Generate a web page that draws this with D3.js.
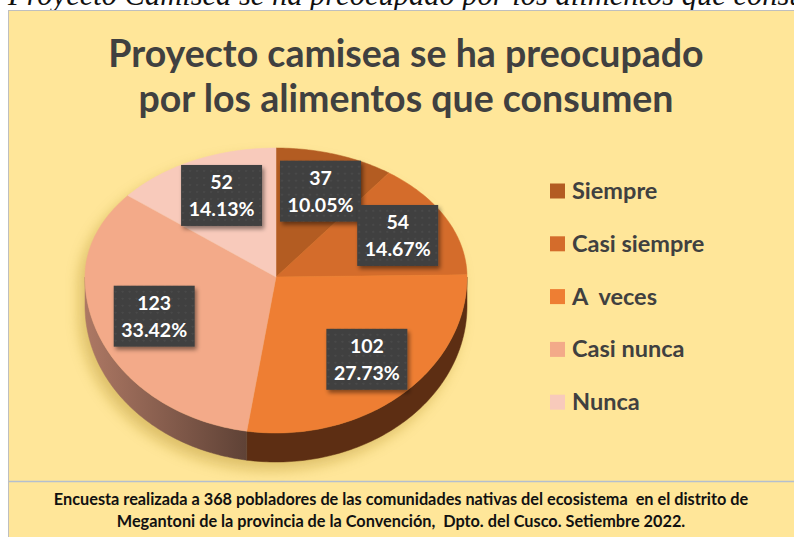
<!DOCTYPE html>
<html>
<head>
<meta charset="utf-8">
<script src="https://cdn.jsdelivr.net/npm/d3@7"></script>
<style>
  body { margin: 0; background: #fff; }
  svg { display: block; }
</style>
</head>
<body>
<svg id="chart"></svg>
<script>
// data
let categories = ['Siempre', 'Casi siempre', 'A  veces', 'Casi nunca', 'Nunca']
let counts = [37, 54, 102, 123, 52]
let percents = ['10.05%', '14.67%', '27.73%', '33.42%', '14.13%']

let titleLines = ['Proyecto camisea se ha preocupado', 'por los alimentos que consumen']
let footerLines = [
    'Encuesta realizada a 368 pobladores de las comunidades nativas del ecosistema  en el distrito de',
    'Megantoni de la provincia de la Convención,  Dpto. del Cusco. Setiembre 2022.'
]
let captionText = 'Proyecto Camisea se ha preocupado por los alimentos que consumen'

// canvas size
let width = 794
let height = 537

// pie geometry (slightly in perspective: the near half is taller)
let cx = 276
let cy = 277
let rx = 191
let ryBack = 129
let ryFront = 156
let depth = 29

let colorScale = d3.scaleOrdinal()
    .domain(categories)
    .range(['#b35c22', '#d46c2b', '#ee7e33', '#f3aa89', '#f8cabb'])

let sideScale = d3.scaleOrdinal()
    .domain(categories)
    .range(['#5a2c10', '#66300f', '#5d2e13', 'url(#sideGrad)', '#7a5a4e'])

let svg = d3.select('#chart')
    .attr('width', width)
    .attr('height', height)
    .style('font-family', 'Lato, "Open Sans", sans-serif')

let defs = svg.append('defs')

// shadow behind the pie
let blur = defs.append('filter').attr('id', 'pieShadow')
    .attr('x', '-30%').attr('y', '-30%').attr('width', '160%').attr('height', '160%')
blur.append('feGaussianBlur').attr('stdDeviation', 7)

let boxShadow = defs.append('filter').attr('id', 'boxShadow')
    .attr('x', '-20%').attr('y', '-20%').attr('width', '150%').attr('height', '150%')
boxShadow.append('feDropShadow')
    .attr('dx', 2).attr('dy', 3).attr('stdDeviation', 2)
    .attr('flood-color', '#000').attr('flood-opacity', 0.45)

let sideGrad = defs.append('linearGradient').attr('id', 'sideGrad')
    .attr('gradientUnits', 'userSpaceOnUse')
    .attr('x1', cx - rx).attr('x2', cx - 30).attr('y1', 0).attr('y2', 0)
sideGrad.append('stop').attr('offset', 0).attr('stop-color', '#ad7864')
sideGrad.append('stop').attr('offset', 1).attr('stop-color', '#5f4236')

// dotted texture of the label boxes
let pat = defs.append('pattern').attr('id', 'dots')
    .attr('patternUnits', 'userSpaceOnUse').attr('width', 7).attr('height', 7)
pat.append('rect').attr('width', 7).attr('height', 7).attr('fill', '#3f3f3f')
pat.append('circle').attr('cx', 3.5).attr('cy', 3.5).attr('r', 1.1).attr('fill', '#4d4d4d')

// caption above the chart, cut off by the page top like in the source
svg.append('text')
    .attr('x', 8)
    .attr('y', 5)
    .attr('font-family', '"Liberation Serif", "Times New Roman", serif')
    .attr('font-style', 'italic')
    .attr('font-size', 30.5)
    .attr('fill', '#111')
    .text(captionText)

// chart area
svg.append('rect')
    .attr('x', 8.5).attr('y', 10.5)
    .attr('width', width).attr('height', height)
    .attr('fill', '#ffe699')
    .attr('stroke', '#bfbfbf')

svg.append('line')
    .attr('x1', 9).attr('x2', width)
    .attr('y1', 481.5).attr('y2', 481.5)
    .attr('stroke', '#b4bfcf').attr('stroke-width', 1.5)

// title
svg.append('g').selectAll('text')
    .data(titleLines)
    .enter()
    .append('text')
    .attr('x', 406)
    .attr('y', (d, i) => 67 + i * 45)
    .attr('text-anchor', 'middle')
    .attr('font-size', 37.5)
    .attr('font-weight', 'bold')
    .attr('fill', '#404040')
    .text(d => d)

// projection of an angle (clockwise from 12 o'clock) on the tilted pie
let proj = (a, r = 1, dz = 0) => {
    let s = Math.sin(a)
    let c = Math.cos(a)
    return [cx + rx * r * s, cy - (c > 0 ? ryBack : ryFront) * r * c + dz]
}

let sample = (a0, a1) => {
    let n = Math.max(2, Math.ceil(Math.abs(a1 - a0) / (Math.PI / 180)))
    return d3.range(n + 1).map(i => a0 + (a1 - a0) * i / n)
}

let line = d3.line()

let pie = d3.pie().sort(null).value(d => d.count)
let arcs = pie(categories.map((c, i) => ({ name: c, count: counts[i], pct: percents[i] })))

// silhouette for the shadow
let outline = sample(Math.PI / 2, 3 * Math.PI / 2).map(a => proj(a, 1, depth))
    .concat(sample(3 * Math.PI / 2, 5 * Math.PI / 2).map(a => proj(a)))
svg.append('path')
    .attr('d', line(outline) + 'Z')
    .attr('transform', 'translate(-6,8)')
    .attr('fill', '#a07a10')
    .attr('opacity', 0.35)
    .attr('filter', 'url(#pieShadow)')

// outer walls (only the near half shows)
let walls = svg.append('g')
arcs.forEach(d => {
    let a0 = Math.max(d.startAngle, Math.PI / 2)
    let a1 = Math.min(d.endAngle, 3 * Math.PI / 2)
    if (a1 <= a0) return
    let top = sample(a0, a1).map(a => proj(a))
    let bottom = sample(a1, a0).map(a => proj(a, 1, depth))
    walls.append('path')
        .attr('d', line(top.concat(bottom)) + 'Z')
        .attr('fill', sideScale(d.data.name))
        .attr('stroke', sideScale(d.data.name))
        .attr('stroke-width', 0.5)
})

// top faces
svg.append('g').selectAll('path')
    .data(arcs)
    .enter()
    .append('path')
    .attr('d', d => line([[cx, cy]].concat(sample(d.startAngle, d.endAngle).map(a => proj(a)))) + 'Z')
    .attr('fill', d => colorScale(d.data.name))
    .attr('stroke', d => colorScale(d.data.name))
    .attr('stroke-width', 0.5)

// data labels
let boxW = 81
let boxH = 61
let labels = svg.append('g').selectAll('g')
    .data(arcs)
    .enter()
    .append('g')
    .attr('transform', d => {
        let p = proj((d.startAngle + d.endAngle) / 2, 0.7)
        return 'translate(' + (p[0] + 3) + ',' + p[1] + ')'
    })

labels.append('rect')
    .attr('x', -boxW / 2).attr('y', -boxH / 2)
    .attr('width', boxW).attr('height', boxH)
    .attr('fill', 'url(#dots)')
    .attr('filter', 'url(#boxShadow)')

labels.append('text')
    .attr('text-anchor', 'middle')
    .attr('y', -6)
    .attr('font-size', 19.5)
    .attr('font-weight', 'bold')
    .attr('fill', '#fff')
    .text(d => d.data.count)

labels.append('text')
    .attr('text-anchor', 'middle')
    .attr('y', 21)
    .attr('font-size', 19.5)
    .attr('font-weight', 'bold')
    .attr('fill', '#fff')
    .text(d => d.data.pct)

// legend
let legend = svg.append('g').selectAll('g')
    .data(categories)
    .enter()
    .append('g')
    .attr('transform', (d, i) => 'translate(550,' + (191 + i * 52.8) + ')')

legend.append('rect')
    .attr('x', 0).attr('y', -7.5)
    .attr('width', 15).attr('height', 15)
    .attr('fill', d => colorScale(d))

legend.append('text')
    .attr('x', 22)
    .attr('y', 8)
    .attr('font-size', 23.5)
    .attr('font-weight', 'bold')
    .attr('fill', '#404040')
    .style('white-space', 'pre')
    .text(d => d)

// footer note
svg.append('g').selectAll('text')
    .data(footerLines)
    .enter()
    .append('text')
    .attr('x', 401)
    .attr('y', (d, i) => 505 + i * 22)
    .attr('text-anchor', 'middle')
    .attr('font-size', 16.3)
    .attr('font-weight', 'bold')
    .attr('fill', '#111')
    .style('white-space', 'pre')
    .text(d => d)
</script>
</body>
</html>
